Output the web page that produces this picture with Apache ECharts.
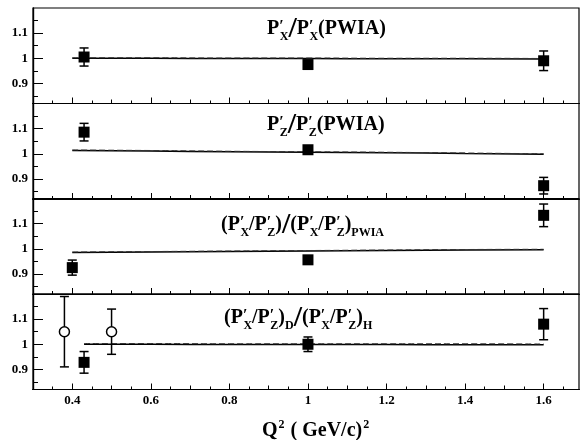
<!DOCTYPE html>
<html>
<head>
<meta charset="utf-8">
<script src="https://cdn.jsdelivr.net/npm/echarts@6/dist/echarts.min.js"></script>
<style>html,body{margin:0;padding:0;background:#fff}#c{width:585px;height:440px}</style>
</head>
<body>
<div id="c"></div>
<script>
// ---- data ----
const xTickMajor = [0.4, 0.6, 0.8, 1.0, 1.2, 1.4, 1.6];
const xTickMid = [0.3, 0.5, 0.7, 0.9, 1.1, 1.3, 1.5];
const xTickMinor = [0.35, 0.45, 0.55, 0.65, 0.75, 0.85, 0.95, 1.05, 1.15, 1.25, 1.35, 1.45, 1.55, 1.65];
const yTickMajor = [0.9, 1.0, 1.1];
const yTickMinor = [0.85, 0.95, 1.05, 1.15];

const p1Q = [0.43, 1.0, 1.6], p1Val = [1.005, 0.975, 0.99], p1Err = [0.036, 0.008, 0.039];
const p2Q = [0.43, 1.0, 1.6], p2Val = [1.086, 1.016, 0.873], p2Err = [0.035, 0.008, 0.033];
const p3Q = [0.40, 1.0, 1.6], p3Val = [0.925, 0.956, 1.133], p3Err = [0.030, 0.008, 0.045];
const p4Q = [0.43, 1.0, 1.6], p4Val = [0.928, 1.0, 1.08], p4Err = [0.043, 0.029, 0.062];
const p4OpenQ = [0.38, 0.5], p4OpenVal = [1.05, 1.05], p4OpenErr = [0.14, 0.09];

const thQ = [0.4, 0.6, 0.8, 1.0, 1.2, 1.4, 1.6];
const th1 = [1.0, 1.0, 0.999, 0.999, 0.998, 0.998, 0.997];
const th2 = [1.013, 1.011, 1.008, 1.006, 1.004, 1.001, 0.998];
const th3 = [0.985, 0.987, 0.989, 0.991, 0.993, 0.995, 0.996];
const th4Q = [0.43, 0.6, 0.8, 1.0, 1.2, 1.4, 1.6];
const th4 = [1.0, 1.0, 0.999, 0.999, 0.999, 0.998, 0.998];
const th4b = [1.001, 1.001, 1.0, 1.0, 1.0, 1.0, 0.999];

const panels = [
  {q: p1Q, v: p1Val, e: p1Err, tq: thQ, t: th1, t2: th1},
  {q: p2Q, v: p2Val, e: p2Err, tq: thQ, t: th2, t2: th2},
  {q: p3Q, v: p3Val, e: p3Err, tq: thQ, t: th3, t2: th3},
  {q: p4Q, v: p4Val, e: p4Err, tq: th4Q, t: th4, t2: th4b}
];

// ---- layout ----
const tops = [8, 103.5, 198.5, 294];
const H = 95.5;
const serif = 'Liberation Serif';

const grids = [], xAxes = [], yAxes = [], series = [];

function renderErr(params, api) {
  const x = api.value(0), y = api.value(1), e = api.value(2);
  const a = api.coord([x, y + e]), b = api.coord([x, y - e]);
  const hw = 4.5, st = {stroke: '#000', lineWidth: 1.5};
  return {type: 'group', children: [
    {type: 'line', shape: {x1: a[0], y1: a[1], x2: b[0], y2: b[1]}, style: st},
    {type: 'line', shape: {x1: a[0] - hw, y1: a[1], x2: a[0] + hw, y2: a[1]}, style: st},
    {type: 'line', shape: {x1: b[0] - hw, y1: b[1], x2: b[0] + hw, y2: b[1]}, style: st}
  ]};
}

panels.forEach((p, i) => {
  grids.push({left: 33, right: 6, top: tops[i], height: H, show: true, borderColor: '#000', borderWidth: 1.2, backgroundColor: 'transparent'});
  const last = i === 3;
  const mkX = (vals, len, labels) => ({
    type: 'value', gridIndex: i, min: 0.3, max: 1.69, position: 'bottom',
    axisLine: {show: true, lineStyle: {color: '#000', width: 1.2}},
    splitLine: {show: false},
    axisTick: {show: true, inside: true, length: len, lineStyle: {color: '#000', width: 1}, customValues: vals},
    axisLabel: labels ? {show: true, customValues: xTickMajor, margin: 5, color: '#000', fontFamily: serif, fontWeight: 'bold', fontSize: 13,
      formatter: v => (Math.round(v * 10) / 10).toString()} : {show: false}
  });
  xAxes.push(mkX(xTickMajor, 6, last), mkX(xTickMid, 4, false), mkX(xTickMinor, 3, false));
  const mkY = (vals, len, labels) => ({
    type: 'value', gridIndex: i, min: 0.82, max: 1.2, position: 'left',
    axisLine: {show: true, lineStyle: {color: '#000', width: 1.2}},
    splitLine: {show: false},
    axisTick: {show: true, inside: true, length: len, lineStyle: {color: '#000', width: 1}, customValues: vals},
    axisLabel: labels ? {show: true, customValues: yTickMajor, margin: 5, color: '#000', fontFamily: serif, fontWeight: 'bold', fontSize: 13,
      formatter: v => (Math.abs(v - 1) < 1e-6 ? '1' : v.toFixed(1))} : {show: false}
  });
  yAxes.push(mkY(yTickMajor, 10, true), mkY(yTickMinor, 5, false));

  const xi = 3 * i, yi = 2 * i;
  series.push({
    type: 'line', xAxisIndex: xi, yAxisIndex: yi, data: p.tq.map((q, k) => [q, p.t[k]]),
    showSymbol: false, symbol: 'none', lineStyle: {color: '#000', width: 1.5}, smooth: true, z: 2, silent: true
  });
  series.push({
    type: 'line', xAxisIndex: xi, yAxisIndex: yi, data: p.tq.map((q, k) => [q, p.t2[k] + 0.002]),
    showSymbol: false, symbol: 'none', lineStyle: {color: '#333', width: 1, type: [6, 3]}, smooth: true, z: 2, silent: true
  });
  series.push({
    type: 'custom', xAxisIndex: xi, yAxisIndex: yi, renderItem: renderErr,
    data: p.q.map((q, k) => [q, p.v[k], p.e[k]]), encode: {x: 0, y: 1}, z: 3, silent: true
  });
  series.push({
    type: 'scatter', xAxisIndex: xi, yAxisIndex: yi, symbol: 'rect', symbolSize: 11,
    data: p.q.map((q, k) => [q, p.v[k]]), itemStyle: {color: '#000', opacity: 1}, z: 4, silent: true
  });
  if (last) {
    series.push({
      type: 'custom', xAxisIndex: xi, yAxisIndex: yi, renderItem: renderErr,
      data: p4OpenQ.map((q, k) => [q, p4OpenVal[k], p4OpenErr[k]]), encode: {x: 0, y: 1}, z: 3, silent: true
    });
    series.push({
      type: 'scatter', xAxisIndex: xi, yAxisIndex: yi, symbol: 'circle', symbolSize: 10,
      data: p4OpenQ.map((q, k) => [q, p4OpenVal[k]]),
      itemStyle: {color: '#fff', borderColor: '#000', borderWidth: 1.5, opacity: 1}, z: 4, silent: true
    });
  }
});

const rich = {
  b: {fontFamily: serif, fontWeight: 'bold', fontSize: 20, color: '#000', lineHeight: 24, verticalAlign: 'middle'},
  sup: {fontFamily: serif, fontWeight: 'bold', fontSize: 16, color: '#000', lineHeight: 24, verticalAlign: 'top', padding: [2, 0, 0, 0]},
  sub: {fontFamily: serif, fontWeight: 'bold', fontSize: 12, color: '#000', lineHeight: 15, verticalAlign: 'bottom', padding: [0, 0, -2, -4]},
  subw: {fontFamily: serif, fontWeight: 'bold', fontSize: 12, color: '#000', lineHeight: 15, verticalAlign: 'bottom', padding: [0, 0, -2, 0]},
  sl: {fontFamily: serif, fontWeight: 'bold', fontSize: 30, color: '#000', lineHeight: 24, verticalAlign: 'middle'}
};
const Px = '{b|P}{sup|′}{sub|X}', Pz = '{b|P}{sup|′}{sub|Z}';
const titles = [
  {text: Px + '{sl|/}' + Px + '{b|(PWIA)}', x: 267, y: 14},
  {text: Pz + '{sl|/}' + Pz + '{b|(PWIA)}', x: 267, y: 110},
  {text: '{b|(}' + Px + '{b|/}' + Pz + '{b|)}{sl|/}{b|(}' + Px + '{b|/}' + Pz + '{b|)}{subw|PWIA}', x: 221, y: 210},
  {text: '{b|(}' + Px + '{b|/}' + Pz + '{b|)}{subw|D}{sl|/}{b|(}' + Px + '{b|/}' + Pz + '{b|)}{subw|H}', x: 224, y: 303}
];

const graphic = titles.map(t => ({
  type: 'text', left: t.x, top: t.y, z: 10, silent: true,
  style: {text: t.text, rich: rich}
}));
graphic.push({
  type: 'text', left: 262, top: 419, z: 10, silent: true,
  style: {text: '{b|Q}{sup|2}{b| ( GeV/c)}{sup|2}', rich: {
    b: {fontFamily: serif, fontWeight: 'bold', fontSize: 20, color: '#000', lineHeight: 23, verticalAlign: 'middle'},
    sup: {fontFamily: serif, fontWeight: 'bold', fontSize: 12, color: '#000', lineHeight: 23, verticalAlign: 'top', padding: [0, 1, 0, 1]}
  }}
});

const chart = echarts.init(document.getElementById('c'), null, {renderer: 'canvas'});
chart.setOption({
  animation: false,
  backgroundColor: '#fff',
  grid: grids, xAxis: xAxes, yAxis: yAxes, series: series, graphic: graphic
});
</script>
</body>
</html>
